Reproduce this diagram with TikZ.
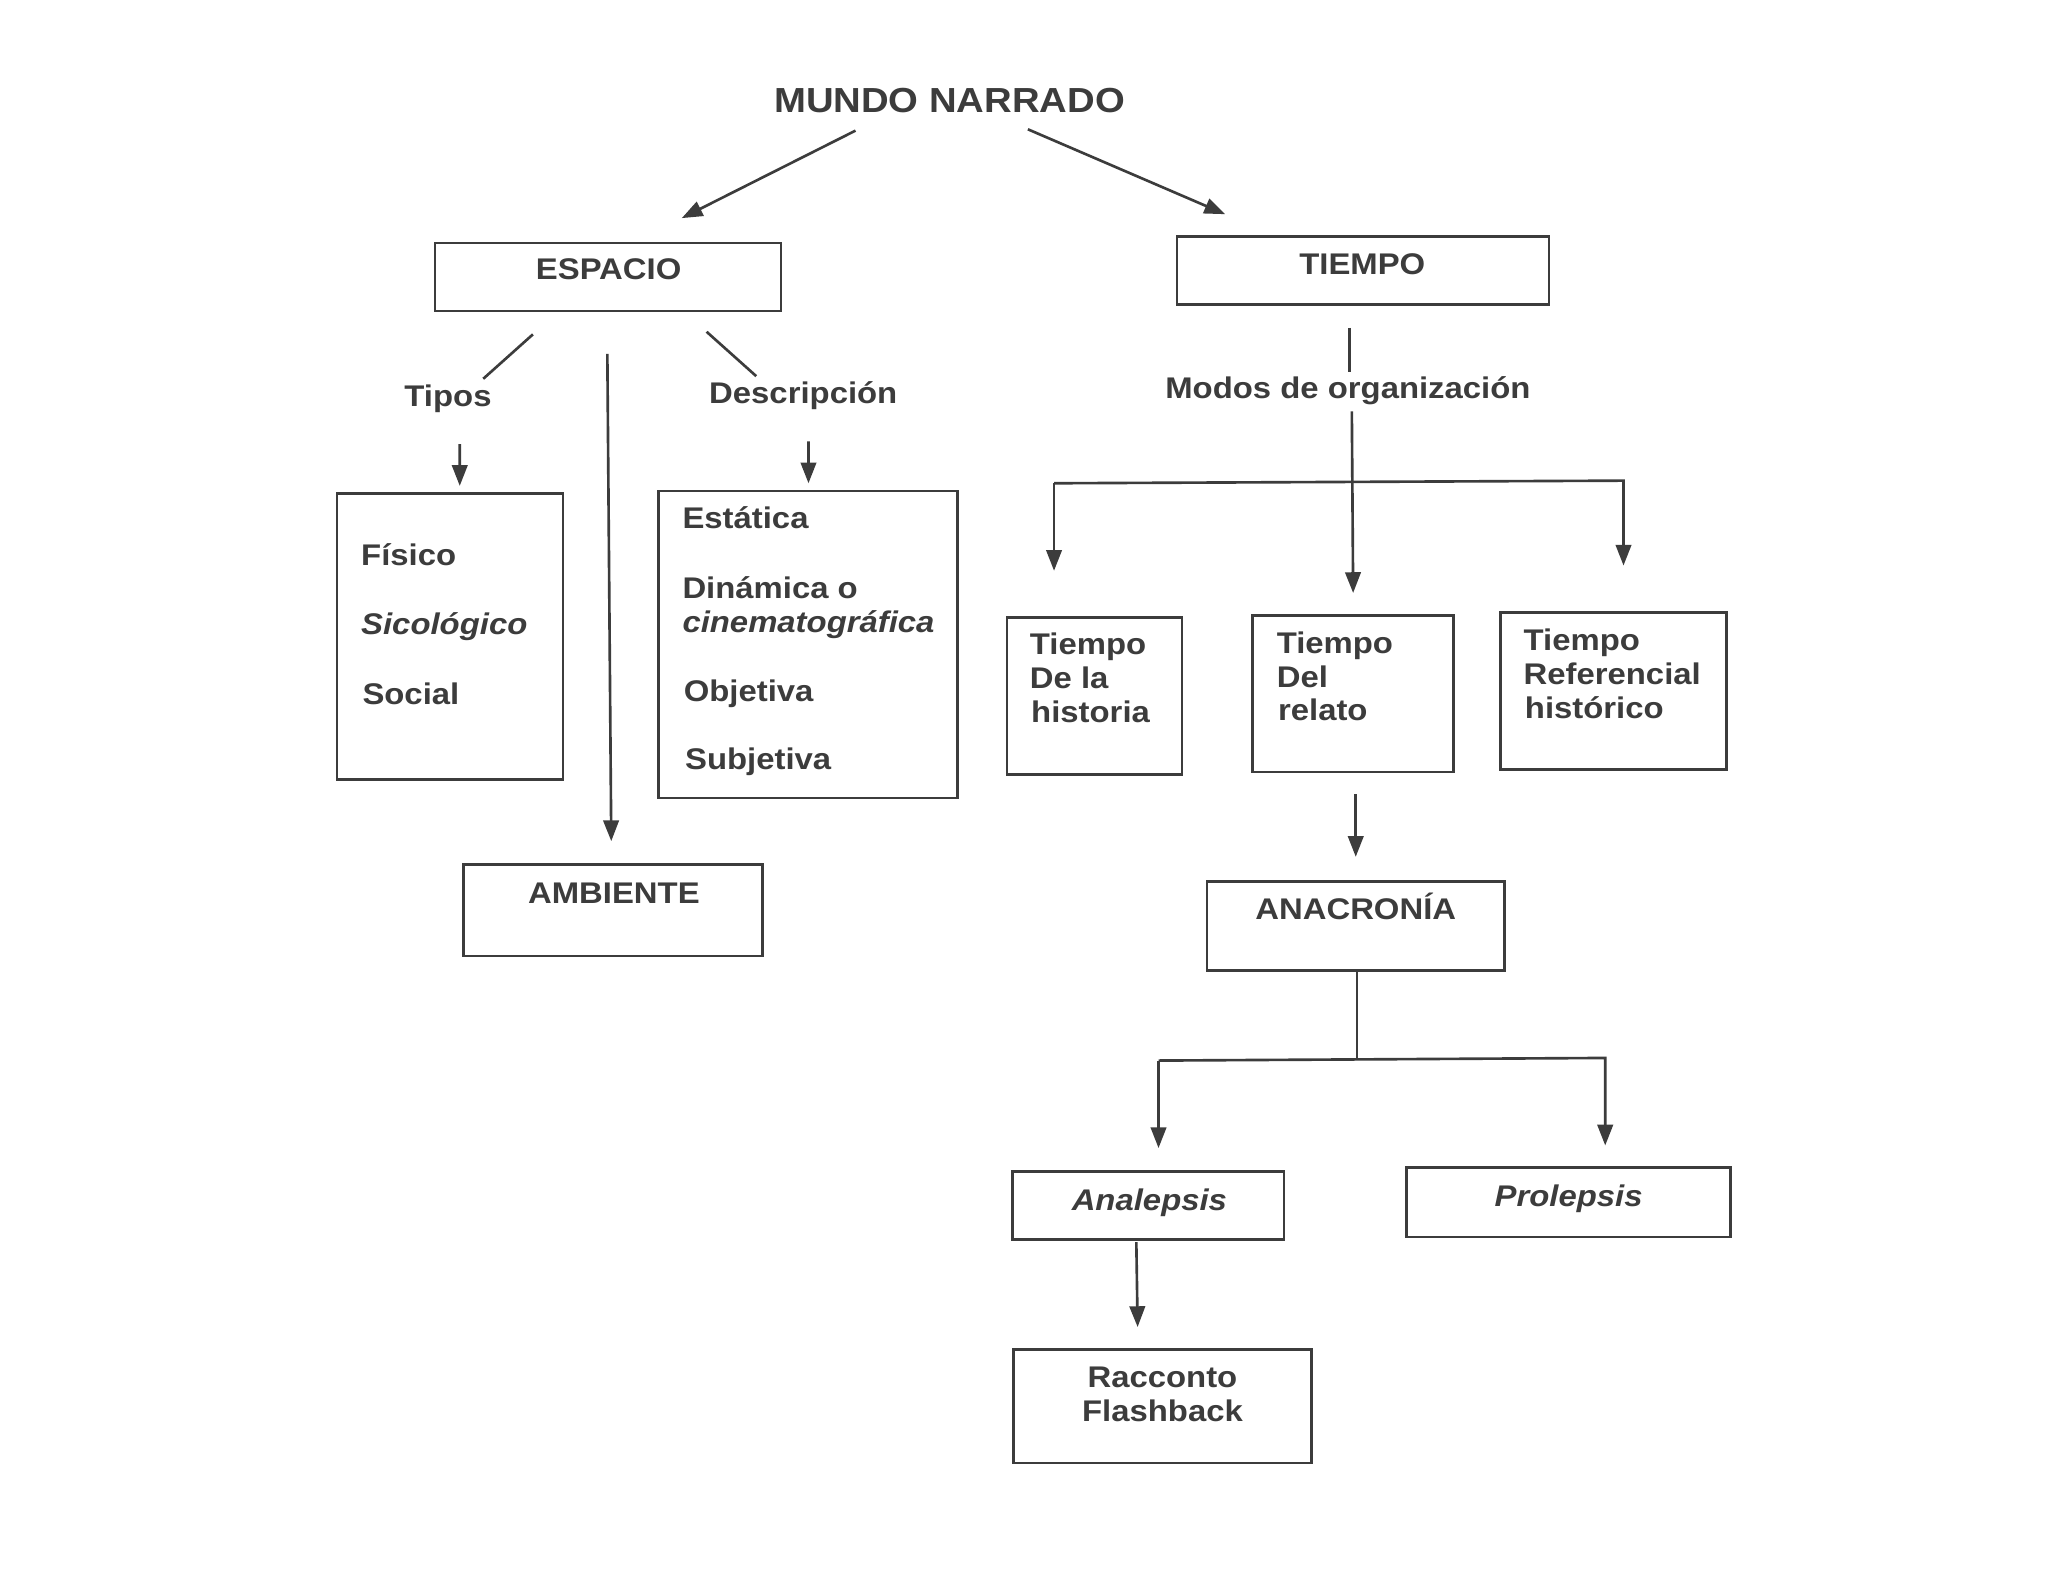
\documentclass[tikz,border=0pt]{standalone}
\usepackage{fontspec}
\setmainfont{Liberation Sans}[FakeStretch=1.1]
\usetikzlibrary{arrows.meta,fit,calc}
\definecolor{ink}{HTML}{3C3C3C}
\begin{document}
\begin{tikzpicture}[x=0.01306cm,y=-0.01306cm,
  box/.style={draw=ink,line width=0.75pt,inner sep=0pt},
  txt/.style={text=ink,inner sep=0pt,font=\bfseries\fontsize{8.5}{9.66}\selectfont},
  itxt/.style={txt,font=\bfseries\itshape\fontsize{8.5}{9.66}\selectfont},
  lft/.style={txt,anchor=base west},
  ctr/.style={txt,anchor=base},
  ln/.style={draw=ink,line width=0.75pt},
  arr/.style={ln,-{Triangle[width=4.4pt,length=5.9pt]}}]

\useasboundingbox (0,0) rectangle (1568,1211);
\fill[white] (0,0) rectangle (1568,1211);

% boxes
\node[box,fit={(333,186)(598,238)}] (espacio) {};
\node[box,fit={(901,181)(1186,233)}] (tiempo) {};
\node[box,fit={(258,378)(431,597)}] (fisico) {};
\node[box,fit={(504,376)(733,611)}] (estat) {};
\node[box,fit={(355,662)(584,732)}] (ambiente) {};
\node[box,fit={(771,473)(905,593)}] (hist) {};
\node[box,fit={(959,471)(1113,591)}] (relato) {};
\node[box,fit={(1149,469)(1322,589)}] (refer) {};
\node[box,fit={(924,675)(1152,743)}] (anacr) {};
\node[box,fit={(775,897)(983,949)}] (analep) {};
\node[box,fit={(1077,894)(1325,947)}] (prol) {};
\node[box,fit={(776,1033)(1004,1120)}] (raccon) {};

% texts
\node[ctr,font=\bfseries\fontsize{9.9}{12}\selectfont] (mundo) at (727,86) {MUNDO NARRADO};
\node[ctr] (tEsp) at (466,214) {ESPACIO};
\node[ctr] (tTie) at (1043,210) {TIEMPO};
\node[ctr] (tipos) at (343,311) {Tipos};
\node[ctr] (desc) at (615,309) {Descripción};
\node[ctr] (modos) at (1032,305) {Modos de organización};
\node[lft] (l1) at (276,433) {Físico};
\node[lft,itxt] (l2) at (276,486) {Sicológico};
\node[lft] (l3) at (277,539) {Social};
\node[lft] (e1) at (522,405) {Estática};
\node[lft] (e2) at (522,458) {Dinámica o};
\node[lft,itxt] (e3) at (522,484) {cinematográfica};
\node[lft] (e4) at (523,537) {Objetiva};
\node[lft] (e5) at (524,589) {Subjetiva};
\node[ctr] (tAmb) at (470,692) {AMBIENTE};
\node[lft] (h1) at (788,501) {Tiempo};
\node[lft] (h2) at (788,527) {De la};
\node[lft] (h3) at (789,553) {historia};
\node[lft] (r1) at (977,500) {Tiempo};
\node[lft] (r2) at (977,526) {Del};
\node[lft] (r3) at (978,552) {relato};
\node[lft] (f1) at (1166,498) {Tiempo};
\node[lft] (f2) at (1166,524) {Referencial};
\node[lft] (f3) at (1167,550) {histórico};
\node[ctr] (tAna) at (1038,704) {ANACRONÍA};
\node[ctr,itxt] (tAnal) at (880,927) {Analepsis};
\node[ctr,itxt] (tPro) at (1201,924) {Prolepsis};
\node[ctr] (rc1) at (890,1062) {Racconto};
\node[ctr] (rc2) at (890,1088) {Flashback};

% connectors
\draw[arr] ($(mundo.base)+(-72,14)$) -- ($(espacio.north)+(56.5,-18)$);
\draw[arr] ($(mundo.base)+(60,13)$) -- ($(tiempo.north)+(-105.5,-16)$);
\draw[ln] ($(espacio.south)+(-57.5,17)$) -- ($(tipos.base)+(27,-21)$);
\draw[arr] ($(espacio.south)+(-0.5,32)$) -- ($(ambiente.north)+(-1.5,-17)$);
\draw[ln] ($(espacio.south)+(75.5,15)$) -- ($(desc.base)+(-36,-21)$);
\draw[arr] ($(tipos.base)+(9,29)$) -- ($(fisico.north)+(7.5,-5)$);
\draw[arr] ($(desc.base)+(4,29)$) -- ($(estat.north)+(0.5,-5)$);
\draw[ln] ($(tiempo.south)+(-10.5,17)$) -- ($(modos.base)+(1,-20)$);
\draw[arr] ($(modos.base)+(3,10)$) -- ($(relato.north)+(0,-16)$);
\coordinate (barL) at (807,370);
\coordinate (barR) at (1243,368);
\draw[arr] (barL) -- (barR) -- ($(refer.north)+(7.5,-35)$);
\draw[arr] (barL) -- ($(hist.north)+(-31,-35)$);
\draw[arr] ($(relato.south)+(2,16)$) -- ($(anacr.north)+(0,-18)$);
\coordinate (bar2) at (1039,811);
\coordinate (b2L) at (887,812);
\coordinate (b2R) at (1229,810);
\draw[ln] ($(anacr.south)+(1,0)$) -- (bar2);
\draw[arr] (b2L) -- (b2R) -- ($(prol.north)+(28,-16)$);
\draw[arr] (b2L) -- ($(analep.north)+(8,-17)$);
\draw[arr] ($(analep.south)+(-9,1)$) -- ($(raccon.north)+(-19,-16)$);
\end{tikzpicture}
\end{document}
